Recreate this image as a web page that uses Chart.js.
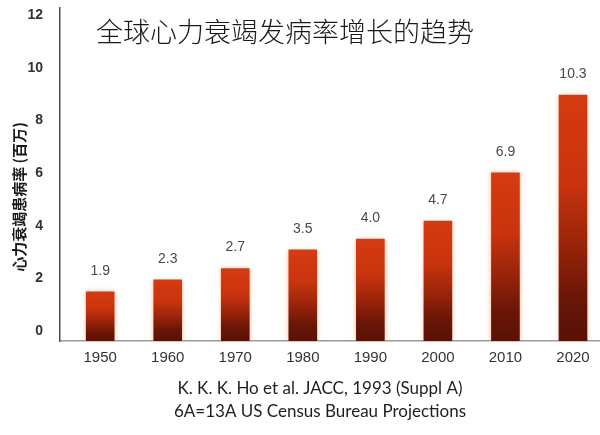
<!DOCTYPE html>
<html>
<head>
<meta charset="utf-8">
<script src="https://cdn.jsdelivr.net/npm/chart.js@4/dist/chart.umd.min.js"></script>
<style>
  html, body { margin: 0; padding: 0; background: #ffffff; }
  #wrap { width: 600px; height: 435px; position: relative; }
</style>
</head>
<body>
<div id="wrap"><canvas id="c" width="600" height="435"></canvas></div>
<script>
// ---- data ----
const years = ['1950', '1960', '1970', '1980', '1990', '2000', '2010', '2020'];
const barHeights = [1.87, 2.32, 2.75, 3.46, 3.87, 4.56, 6.39, 9.34];
const valueLabels = ['1.9', '2.3', '2.7', '3.5', '4.0', '4.7', '6.9', '10.3'];
const yTicks = [0, 2, 4, 6, 8, 10, 12];
const titleText = '全球心力衰竭发病率增长的趋势';
const yTitleText = '心力衰竭患病率 (百万)';
const footLines = ['K. K. K. Ho et al. JACC, 1993 (Suppl A)', '6A=13A US Census Bureau Projections'];

const points = years.map((y, i) => ({ x: i, y: barHeights[i] }));

function barFill(c) {
  const chart = c.chart;
  const area = chart.chartArea;
  if (!area || c.type !== 'data' || !chart.scales.y) return '#c3320d';
  const ys = chart.scales.y;
  const top = ys.getPixelForValue(c.raw.y);
  const bottom = ys.getPixelForValue(0);
  const g = chart.ctx.createLinearGradient(0, top, 0, bottom);
  g.addColorStop(0, '#d63a10');
  g.addColorStop(0.35, '#c9340e');
  g.addColorStop(0.62, '#962309');
  g.addColorStop(0.82, '#6a1607');
  g.addColorStop(1, '#571206');
  return g;
}

const extras = {
  id: 'extras',
  beforeDatasetsDraw(chart) {
    const ctx = chart.ctx;
    ctx.save();
    ctx.shadowColor = 'rgba(255, 150, 100, 0.75)';
    ctx.shadowBlur = 5;
  },
  afterDatasetsDraw(chart) {
    const ctx = chart.ctx;
    ctx.restore();
    // value labels above bars
    const meta = chart.getDatasetMeta(0);
    ctx.save();
    ctx.font = '14px "Liberation Sans", Arial, sans-serif';
    ctx.fillStyle = '#4a4a4a';
    ctx.textAlign = 'center';
    ctx.textBaseline = 'middle';
    meta.data.forEach((bar, i) => {
      ctx.fillText(valueLabels[i], bar.x, bar.y - 21);
    });
    ctx.restore();
  },
  afterDraw(chart) {
    const ctx = chart.ctx;
    ctx.save();
    // main title
    ctx.font = '300 27px "Noto Sans CJK SC", sans-serif';
    ctx.fillStyle = '#1a1a1a';
    ctx.textAlign = 'center';
    ctx.textBaseline = 'middle';
    ctx.fillText(titleText, 285, 32);
    // y-axis title
    ctx.save();
    ctx.translate(19.5, 197);
    ctx.rotate(-Math.PI / 2);
    ctx.font = 'bold 15px "Noto Sans CJK SC", sans-serif';
    ctx.fillStyle = '#1a1a1a';
    ctx.fillText(yTitleText, 0, 0);
    ctx.restore();
    // footnote
    ctx.font = '17px Lato, "Open Sans", sans-serif';
    ctx.fillStyle = '#1e1e1e';
    ctx.fillText(footLines[0], 320, 389);
    ctx.fillText(footLines[1], 320, 412);
    ctx.restore();
  }
};

new Chart(document.getElementById('c'), {
  type: 'bar',
  data: {
    datasets: [{
      data: points,
      backgroundColor: barFill,
      borderWidth: 0,
      barThickness: 28
    }]
  },
  options: {
    responsive: false,
    animation: false,
    devicePixelRatio: 1,
    layout: { padding: { top: 8, left: 0, right: 0, bottom: 0 } },
    plugins: {
      legend: { display: false },
      tooltip: { enabled: false },
      title: { display: false }
    },
    scales: {
      x: {
        type: 'linear',
        offset: false,
        min: -0.595,
        max: 7.4,
        grid: { display: false, drawTicks: false, offset: false },
        border: { display: true, color: '#9a9a9a', width: 1.5 },
        afterBuildTicks(scale) { scale.ticks = years.map((_, i) => ({ value: i })); },
        afterFit(scale) { scale.height = 94; scale.paddingLeft = 0; scale.paddingRight = 0; },
        ticks: {
          padding: 8,
          autoSkip: false,
          maxRotation: 0,
          color: '#333333',
          font: { family: '"Liberation Sans", Arial, sans-serif', size: 15 },
          callback: (v) => years[v]
        }
      },
      y: {
        min: 0,
        max: 12.65,
        grid: { display: false, drawTicks: false },
        border: { display: true, color: '#4a4a4a', width: 1.5 },
        afterBuildTicks(scale) { scale.ticks = yTicks.map(v => ({ value: v })); },
        afterFit(scale) { scale.width = 60; scale.paddingTop = 0; scale.paddingBottom = 0; },
        ticks: {
          padding: 17,
          labelOffset: -10,
          color: '#333333',
          font: { family: '"Liberation Sans", Arial, sans-serif', size: 14, weight: 'bold' }
        }
      }
    }
  },
  plugins: [extras]
});
</script>
</body>
</html>
